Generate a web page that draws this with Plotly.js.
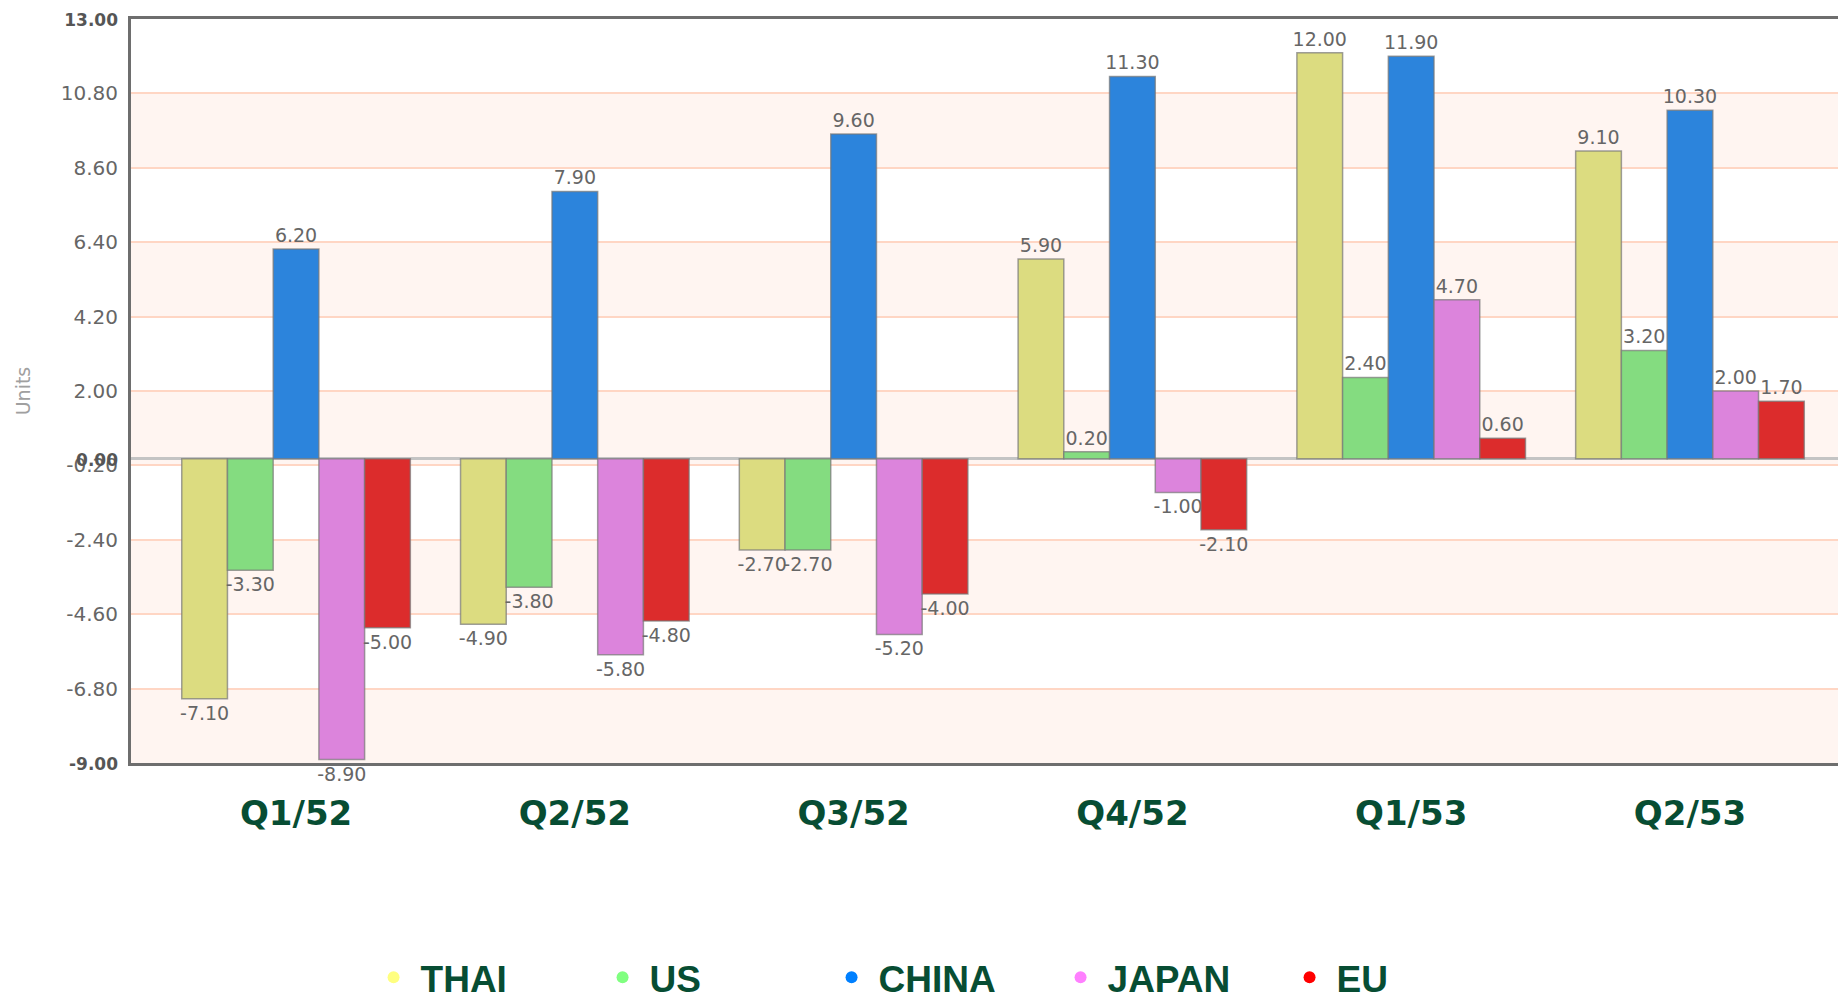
<!DOCTYPE html>
<html>
<head>
<meta charset="utf-8">
<script src="https://cdn.plot.ly/plotly-3.0.1.min.js"></script>
<style>
html,body{margin:0;padding:0;background:#fff;}
#chart{width:1838px;height:993px;}
</style>
</head>
<body>
<div id="chart"></div>
<script>
// ---- data ----
const categories = ["Q1/52", "Q2/52", "Q3/52", "Q4/52", "Q1/53", "Q2/53"];
const seriesNames = ["THAI", "US", "CHINA", "JAPAN", "EU"];
const thai  = [-7.1, -4.9, -2.7, 5.9, 12.0, 9.1];
const us    = [-3.3, -3.8, -2.7, 0.2, 2.4, 3.2];
const china = [6.2, 7.9, 9.6, 11.3, 11.9, 10.3];
const japan = [-8.9, -5.8, -5.2, -1.0, 4.7, 2.0];
const eu    = [-5.0, -4.8, -4.0, -2.1, 0.6, 1.7];
const yTicks = [13.0, 10.8, 8.6, 6.4, 4.2, 2.0, -0.2, -2.4, -4.6, -6.8, -9.0];
const yTitle = "Units";

// ---- styles ----
const barColors = ["#dcdc80", "#84dc80", "#2c84dc", "#dc84dc", "#dc2c2c"];
const dotColors = ["#ffff80", "#80ff80", "#0080ff", "#ff80ff", "#ff0000"];
const seriesValues = [thai, us, china, japan, eu];
const green = "#074d33";

const traces = [];
seriesValues.forEach((vals, i) => {
  traces.push({
    type: "bar",
    name: seriesNames[i],
    x: categories,
    y: vals,
    text: vals.map(v => v.toFixed(2)),
    textposition: "outside",
    constraintext: "none",
    cliponaxis: false,
    textfont: {family: "DejaVu Sans", size: 19, color: "#666666"},
    marker: {color: barColors[i], line: {color: "rgba(120,120,120,0.7)", width: 1.5}},
    showlegend: false,
    hoverinfo: "x+y"
  });
});
seriesNames.forEach((n, i) => {
  traces.push({
    type: "scatter",
    mode: "markers",
    name: n,
    x: [null],
    y: [null],
    marker: {color: dotColors[i], size: 12, symbol: "circle"},
    showlegend: true,
    hoverinfo: "skip"
  });
});

// tick labels: the end values and zero in bold
const tickVals = yTicks.concat([0]);
const tickText = tickVals.map(v => {
  const s = v.toFixed(2);
  if (v === 0 || v === yTicks[0] || v === yTicks[yTicks.length - 1]) {
    return '<b><span style="font-size:17px;color:#555">' + s + '</span></b>';
  }
  return s;
});

// alternating background bands derived from the tick list
const shapes = [];
for (let i = 1; i < yTicks.length; i += 2) {
  shapes.push({
    type: "rect", xref: "paper", yref: "y", layer: "below",
    x0: 0, x1: 1, y0: yTicks[i], y1: yTicks[i + 1],
    fillcolor: "#fff5f1", line: {width: 0}
  });
}

const layout = {
  width: 1838, height: 993,
  paper_bgcolor: "#ffffff",
  plot_bgcolor: "#ffffff",
  margin: {l: 131, r: 0, t: 19, b: 230, autoexpand: false},
  barmode: "group",
  bargap: 0.18,
  bargroupgap: 0,
  showlegend: true,
  legend: {
    orientation: "h",
    x: 0.138, xanchor: "left",
    y: -0.247, yanchor: "top",
    itemwidth: 44,
    entrywidth: 170, entrywidthmode: "pixels",
    font: {family: "Liberation Sans, Arial, sans-serif", size: 37, color: green, weight: "bold"},
    bgcolor: "rgba(0,0,0,0)",
    itemclick: false
  },
  xaxis: {
    type: "category",
    range: [-0.592, 5.531],
    showgrid: false,
    zeroline: false,
    showline: true, mirror: true,
    linecolor: "#6e6e6e", linewidth: 3,
    ticks: "",
    ticklabelstandoff: 18,
    tickfont: {family: "DejaVu Sans", size: 34, color: green, weight: "bold"},
    automargin: false,
    fixedrange: true
  },
  yaxis: {
    range: [yTicks[yTicks.length - 1], yTicks[0]],
    tickmode: "array",
    tickvals: tickVals,
    ticktext: tickText,
    tickfont: {family: "DejaVu Sans", size: 20, color: "#666666"},
    ticks: "",
    ticklabelstandoff: 6,
    showgrid: true,
    gridcolor: "#ffd6c4", gridwidth: 1.5,
    zeroline: true, zerolinecolor: "#c4c4c4", zerolinewidth: 3,
    showline: true, mirror: false,
    linecolor: "#6e6e6e", linewidth: 3,
    title: {text: yTitle, font: {family: "DejaVu Sans", size: 19, color: "#a0a0a0"}, standoff: 26},
    automargin: false,
    fixedrange: true
  },
  shapes: shapes
};

Plotly.newPlot("chart", traces, layout, {displayModeBar: false});
</script>
</body>
</html>
